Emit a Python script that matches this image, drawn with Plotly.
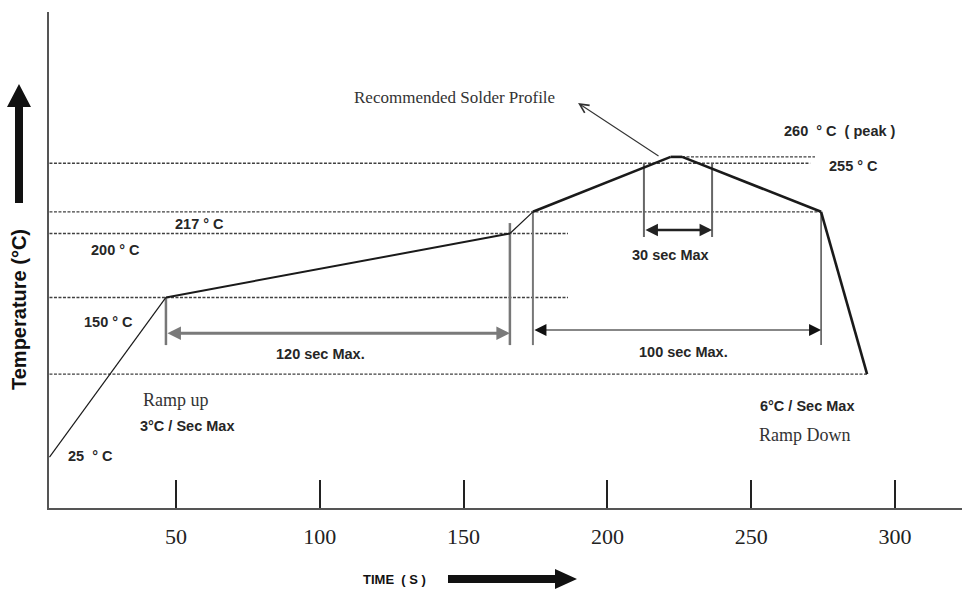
import plotly.graph_objects as go

# ---------------- data ----------------
# reflow profile: time (s) and temperature (°C)
profile_time = [6, 46.5, 166.1, 174.1, 222, 226, 274.3, 290.3]
profile_temp = [25, 150, 200, 217, 260, 260, 217, 90]

# horizontal reference (dotted) lines: level, start time, end time
ref_level = [260, 255, 217, 200, 150, 90]
ref_start = [222.8, 6, 6, 6, 6, 6]
ref_end = [272.2, 270.5, 274.3, 186.3, 186.3, 290.3]

# vertical time markers: time, lower temp, upper temp
mark_time = [46.5, 166.1, 174.1, 212.7, 236.4, 274.3]
mark_low = [112.7, 112.7, 112.7, 197.3, 197.3, 112.7]
mark_high = [150, 208.2, 217, 255, 255, 217]

# duration arrows: start time, end time, temperature level, label
span_start = [46.5, 174.1, 212.7]
span_end = [166.1, 274.3, 236.4]
span_level = [122, 124.5, 202.8]
span_label = ["120 sec Max.", "100 sec Max.", "30 sec Max"]

x_ticks = [50, 100, 150, 200, 250, 300]

# ---------------- figure ----------------
W, H = 962, 589
L, R, T, B = 49, 0, 12, 81

fig = go.Figure()

DARK = "#1a1a1a"

# dotted reference lines
for lv, s, e in zip(ref_level, ref_start, ref_end):
    fig.add_trace(go.Scatter(x=[s, e], y=[lv, lv], mode="lines",
                             line=dict(color="#404040", width=1.4, dash="3px,1.5px"),
                             hoverinfo="skip", showlegend=False))

# vertical markers
mark_color = ["#777777", "#777777", "#777777", "#666666", "#666666", "#333333"]
mark_width = [2.5, 2.5, 2.0, 2.0, 2.0, 1.3]
for t, lo, hi, c, w in zip(mark_time, mark_low, mark_high, mark_color, mark_width):
    fig.add_trace(go.Scatter(x=[t, t], y=[lo, hi], mode="lines",
                             line=dict(color=c, width=w),
                             hoverinfo="skip", showlegend=False))

# profile line, segment widths as in the drawing
seg_width = [1.2, 2.0, 1.2, 2.6, 2.6, 2.6, 2.6]
for i, w in enumerate(seg_width):
    fig.add_trace(go.Scatter(x=profile_time[i:i + 2], y=profile_temp[i:i + 2],
                             mode="lines", line=dict(color=DARK, width=w),
                             hoverinfo="skip", showlegend=False))

ann = []

# duration arrows
span_style = [dict(arrowcolor="#7a7a7a", arrowwidth=3, arrowsize=0.9, startarrowsize=0.9),
              dict(arrowcolor="#111111", arrowwidth=1.2, arrowsize=2.0, startarrowsize=2.0),
              dict(arrowcolor="#222222", arrowwidth=2.5, arrowsize=1.0, startarrowsize=1.0)]
for s, e, lv, st in zip(span_start, span_end, span_level, span_style):
    ann.append(dict(x=e, y=lv, ax=s, ay=lv, xref="x", yref="y", axref="x", ayref="y",
                    text="", showarrow=True, arrowhead=2, startarrowhead=2,
                    arrowside="end+start", **st))

# pointer to the profile
ann.append(dict(x=189.8, y=302.1, ax=218.3, ay=259.9, xref="x", yref="y",
                axref="x", ayref="y", text="", showarrow=True, arrowhead=5,
                arrowsize=1.6, arrowwidth=1.1, arrowcolor="#333333"))

bold = dict(family="Liberation Sans", size=14.5, color="#262626", weight="bold")
serif = dict(family="Liberation Serif", size=18, color="#333333")

texts = [
    ("Recommended Solder Profile", 147.0, 306.1, "center", dict(serif, size=17)),
    ("260  ° C  ( peak )", 260.7, 280.3, "left", bold),
    ("255 ° C", 276.4, 252.9, "left", bold),
    ("217 ° C", 58.0, 207.5, "center", bold),
    ("200 ° C", 28.8, 187.1, "center", bold),
    ("150 ° C", 26.4, 130.8, "center", bold),
    ("25  ° C", 20.1, 25.8, "center", bold),
    ("Ramp up", 50.1, 69.7, "center", serif),
    ("3°C / Sec Max", 53.8, 49.4, "center", bold),
    (span_label[0], 100.4, 105.7, "center", bold),
    (span_label[1], 226.3, 107.2, "center", bold),
    (span_label[2], 221.8, 183.2, "center", bold),
    ("6°C / Sec Max", 269.4, 65.0, "center", bold),
    ("Ramp Down", 268.7, 42.3, "center", serif),
]
for txt, x, y, xa, f in texts:
    ann.append(dict(x=x, y=y, xref="x", yref="y", text=txt, showarrow=False,
                    xanchor=xa, yanchor="middle", font=f))

pw, ph = W - L - R, H - T - B


def px(xp):
    return (xp - L) / pw


def py(yp):
    return (H - B - yp) / ph


# axis titles
ann.append(dict(x=px(394), y=py(579), xref="paper", yref="paper", text="TIME  ( S )",
                showarrow=False, xanchor="center", yanchor="middle",
                font=dict(family="Liberation Sans", size=13, color="#111111", weight="bold")))
ann.append(dict(x=px(19), y=py(310), xref="paper", yref="paper", text="Temperature (°C)",
                showarrow=False, textangle=-90, xanchor="center", yanchor="middle",
                font=dict(family="Liberation Sans", size=20, color="#111111", weight="bold")))


def poly(pts):
    d = "M " + " L ".join(f"{px(a):.5f},{py(b):.5f}" for a, b in pts) + " Z"
    return dict(type="path", path=d, xref="paper", yref="paper",
                fillcolor="#111111", line=dict(width=0), layer="above")


shapes = [
    poly([(15, 203), (15, 107), (7, 107), (19, 84), (31, 107), (23, 107), (23, 203)]),
    poly([(448, 575), (555, 575), (555, 569), (577, 579), (555, 589), (555, 583), (448, 583)]),
]

fig.update_layout(
    width=W, height=H,
    margin=dict(l=L, r=R, t=T, b=B),
    paper_bgcolor="white", plot_bgcolor="white",
    annotations=ann, shapes=shapes,
    showlegend=False,
    xaxis=dict(range=[5.84, 323.3], tickvals=x_ticks, ticks="inside", ticklen=28,
               tickwidth=1.6, tickcolor="#222222", showline=True, linecolor="#555555",
               linewidth=1.6, showgrid=False, zeroline=False, ticklabelstandoff=8,
               tickfont=dict(family="Liberation Serif", size=22, color="#222222")),
    yaxis=dict(range=[-14.8, 373.4], showticklabels=False, ticks="", showline=True,
               linecolor="#555555", linewidth=1.6, showgrid=False, zeroline=False),
)

fig.write_html("out.html",
               config={"displayModeBar": False},
               post_script="document.body.style.margin='0px';"
                           "document.body.style.overflow='hidden';")
